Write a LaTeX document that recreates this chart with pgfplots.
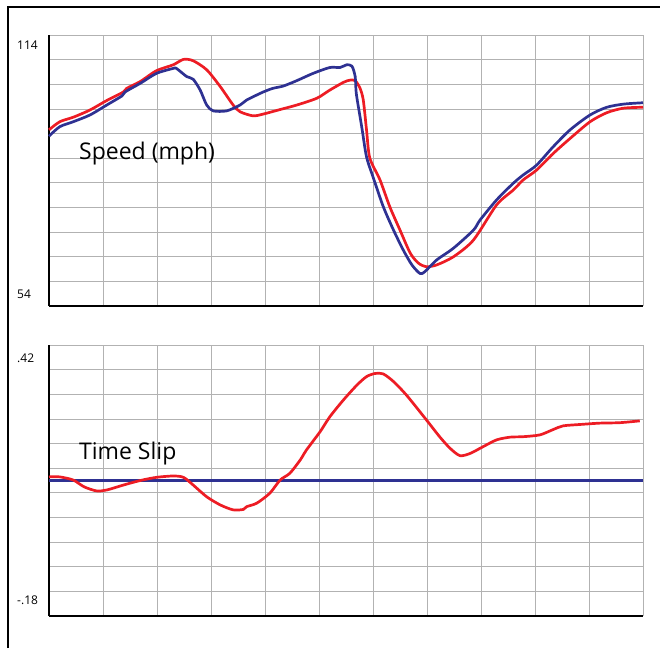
\documentclass[border=0pt]{standalone}
\usepackage{fontspec}
\setmainfont{Open Sans}
\usepackage{pgfplots}
\pgfplotsset{compat=1.18}
\definecolor{slipred}{HTML}{ED1C24}
\definecolor{slipblue}{HTML}{2E3192}

\pgfplotsset{
  panel/.style={
    width=594pt, height=271pt, scale only axis,
    xmin=0, xmax=11, xtick={0,...,11},
    xticklabels={}, yticklabels={},
    grid=major,
    major grid style={gray!60, line width=0.8pt},
    tick style={draw=none},
    axis x line*=bottom, axis y line*=left,
    axis line style={black, line width=1.3pt, -},
    clip=false,
  },
  curve/.style={line width=2.7pt, smooth, tension=0.45, line join=round},
}

\begin{document}
\begin{tikzpicture}
\path[use as bounding box] (0,0) rectangle (660pt,648pt);
\draw[line width=1.3pt] (8pt,0) -- (8pt,641pt) -- (660pt,641pt);

% speed
\begin{axis}[panel, at={(49pt,342pt)}, anchor=south west,
  ymin=54, ymax=114,
  ytick={54,59.4545,64.9091,70.3636,75.8182,81.2727,86.7273,92.1818,97.6364,103.0909,108.5455,114}]
\addplot[curve, slipred] coordinates {
 (0,93.0) (0.20,94.8) (0.45,95.8) (0.76,97.4) (1.07,99.5) (1.38,101.4)
 (1.44,102.2) (1.69,103.7) (1.99,106.1) (2.30,107.4) (2.49,108.6) (2.67,108.3)
 (2.92,106.3) (3.17,102.6) (3.41,98.5) (3.54,97.0) (3.78,96.1) (3.97,96.5)
 (4.28,97.5) (4.59,98.5) (4.96,100.0) (5.20,101.8) (5.45,103.5) (5.57,104.0)
 (5.67,103.9) (5.76,102.2) (5.82,99.6) (5.88,93.0) (5.94,86.8) (6.13,81.9)
 (6.31,76.0) (6.50,70.8) (6.69,65.7) (6.84,63.5) (6.99,62.7) (7.18,63.1)
 (7.49,64.9) (7.86,68.6) (8.29,76.4) (8.60,79.7) (8.78,81.9) (9.03,84.1)
 (9.34,87.8) (9.65,91.1) (10.02,94.8) (10.33,96.8) (10.64,97.8) (11.0,98.0)
};
\addplot[curve, slipblue] coordinates {
 (0,91.6) (0.20,93.7) (0.45,94.8) (0.76,96.3) (1.07,98.5) (1.35,100.5)
 (1.41,101.4) (1.69,103.3) (1.99,105.5) (2.30,106.6) (2.36,106.6) (2.55,104.8)
 (2.67,104.2) (2.80,101.8) (2.92,98.5) (3.04,97.2) (3.29,97.2) (3.54,98.5)
 (3.66,99.6) (3.97,101.4) (4.15,102.2) (4.34,102.7) (4.59,103.9) (4.89,105.5)
 (5.20,106.8) (5.39,106.8) (5.51,107.4) (5.61,107.1) (5.67,104.8) (5.69,101.1)
 (5.76,95.9) (5.80,93.0) (5.88,87.0) (6.00,82.6) (6.19,76.0) (6.38,70.8)
 (6.56,66.4) (6.72,63.1) (6.87,61.2) (6.96,61.6) (7.18,64.2) (7.49,66.8)
 (7.86,70.8) (7.98,73.0) (8.29,77.5) (8.60,81.2) (8.78,83.0) (9.03,85.2)
 (9.34,89.3) (9.65,93.0) (10.02,96.3) (10.33,98.0) (10.64,98.7) (11.0,99.0)
};
\end{axis}

% time slip
\begin{axis}[panel, at={(49pt,32pt)}, anchor=south west,
  ymin=-0.18, ymax=0.42,
  ytick={-0.18,-0.12545,-0.07091,-0.01636,0.03818,0.09273,0.14727,0.20182,0.25636,0.31091,0.36545,0.42}]
\addplot[line width=2.7pt, slipblue] coordinates {(0,0.12) (11,0.12)};
\addplot[curve, slipred] coordinates {
 (0,0.128) (0.20,0.128) (0.45,0.121) (0.65,0.106) (0.88,0.097) (1.07,0.099)
 (1.38,0.110) (1.69,0.120) (1.99,0.127) (2.30,0.130) (2.49,0.127) (2.67,0.110)
 (2.92,0.084) (3.17,0.066) (3.41,0.055) (3.60,0.056) (3.66,0.062) (3.85,0.070)
 (4.09,0.092) (4.28,0.121) (4.46,0.136) (4.65,0.165) (4.77,0.188) (5.02,0.228)
 (5.20,0.261) (5.45,0.298) (5.70,0.331) (5.88,0.350) (6.04,0.357) (6.19,0.356)
 (6.38,0.339) (6.62,0.309) (6.99,0.254) (7.24,0.216) (7.43,0.191) (7.61,0.175)
 (7.80,0.180) (8.04,0.195) (8.29,0.210) (8.54,0.216) (8.78,0.217) (9.09,0.221)
 (9.34,0.233) (9.52,0.241) (9.83,0.244) (10.20,0.247) (10.57,0.248) (10.94,0.252)
};
\end{axis}

% labels
\node[anchor=west, font=\fontsize{12}{14}\selectfont, inner sep=0pt] at (17pt,603.3pt) {114};
\node[anchor=west, font=\fontsize{12}{14}\selectfont, inner sep=0pt] at (17pt,354pt) {54};
\node[anchor=west, font=\fontsize{12}{14}\selectfont, inner sep=0pt] at (17pt,290pt) {.42};
\node[anchor=west, font=\fontsize{12}{14}\selectfont, inner sep=0pt] at (17pt,47.5pt) {-.18};
\node[anchor=base west, font=\fontsize{23}{27}\selectfont, inner sep=0pt] at (79pt,488pt) {Speed (mph)};
\node[anchor=base west, font=\fontsize{23}{27}\selectfont, inner sep=0pt] at (79pt,189pt) {Time Slip};
\end{tikzpicture}
\end{document}
